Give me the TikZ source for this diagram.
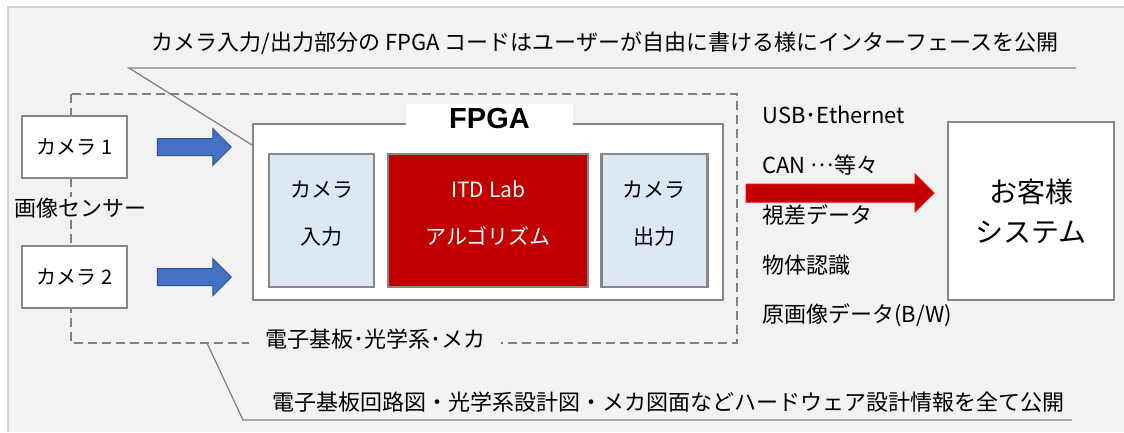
\documentclass[tikz,border=0pt]{standalone}
\usepackage{fontspec}
\setmainfont{Noto Sans CJK JP}
\newfontfamily\fpgafont{Liberation Sans}
\usetikzlibrary{positioning, shapes.arrows}

\definecolor{panelgray}{HTML}{F2F2F2}
\definecolor{edgegray}{HTML}{878787}
\definecolor{dashgray}{HTML}{7F7F7F}
\definecolor{camblue}{HTML}{DDE8F5}
\definecolor{itdred}{HTML}{C00000}
\definecolor{arrowblue}{HTML}{4472C4}
\definecolor{arrowedge}{HTML}{2F528F}

\tikzset{
  whitebox/.style={draw=edgegray, line width=2.2pt, fill=white, inner sep=0pt},
  cambox/.style={whitebox, minimum width=105pt, minimum height=62pt},
  block/.style={draw=edgegray, line width=2.2pt, minimum height=133pt, inner sep=0pt},
  blocktext/.style={align=center, font=\fontsize{21}{47}\selectfont},
  bluearrow/.style={single arrow, draw=arrowedge, fill=arrowblue, line width=1pt,
    minimum height=74pt, single arrow head extend=10pt, inner xsep=0pt, inner ysep=8pt},
  redarrow/.style={bluearrow, draw=red, fill=itdred, minimum height=188pt, inner ysep=8.5pt},
  callout/.style={draw=dashgray, line width=1.2pt},
  bigtext/.style={font=\fontsize{22}{26}\selectfont},
  linktext/.style={bigtext, anchor=west}
}

\begin{document}
\begin{tikzpicture}[x=1pt, y=-1pt, font=\fontsize{20}{24}\selectfont]
  \useasboundingbox (0,0) rectangle (1124,432);
  \fill[panelgray] (8,7) rectangle (1124,432);
  \draw[gray!35, line width=1.5pt] (1124,7) -- (8,7) -- (8,432);

  \draw[dashgray, line width=2.2pt, dash pattern=on 9pt off 5pt] (71,94) rectangle (737,343);

  \coordinate (topbend) at (129,68);
  \coordinate (topend) at (1076,68);
  \coordinate (botstart) at (207,343);
  \coordinate (botbend) at (243,420);
  \coordinate (botend) at (1072,420);

  \node[bigtext] (gaiyou) at (605,43) {カメラ入力/出力部分の FPGA コードはユーザーが自由に書ける様にインターフェースを公開};

  \node[cambox] (cam1) at (74.5,147) {カメラ 1};
  \node[cambox, below=66pt of cam1] (cam2) {カメラ 2};
  \node[bigtext, fill=panelgray, inner sep=1pt] (sensor) at (80,208) {画像センサー};

  \node[whitebox, minimum width=470pt, minimum height=176pt] (fpga) at (488,212) {};
  \node[fill=white, minimum width=167pt, minimum height=30pt, inner sep=0pt,
    font=\fpgafont\bfseries\fontsize{29}{30}\selectfont] (fpgalabel) at (489.5,119) {FPGA};

  \node[block, fill=camblue, minimum width=105pt] (camin) at (321.5,220.5) {};
  \node[block, fill=itdred, minimum width=200pt, right=12pt of camin] (algo) {};
  \node[block, fill=camblue, minimum width=106pt, right=11pt of algo] (camout) {};
  \node[blocktext] (camintext) at ([yshift=7pt]camin.center) {カメラ\\入力};
  \node[blocktext, text=white] (algotext) at ([yshift=7pt]algo.center) {ITD Lab\\アルゴリズム};
  \node[blocktext] (camouttext) at ([yshift=7pt]camout.center) {カメラ\\出力};

  \node[whitebox, minimum width=166pt, minimum height=178pt, align=center,
    font=\fontsize{28}{40}\selectfont] (cust) at (1031,211) {お客様\\システム};

  \path (cam1.east) -- (cam1.east -| fpga.west) node[bluearrow, midway] (in1) {};
  \path (cam2.east) -- (cam2.east -| fpga.west) node[bluearrow, midway] (in2) {};
  \coordinate (outstart) at ([yshift=19pt]fpga.east);
  \path (outstart) -- (outstart -| cust.west) node[redarrow, midway] (out) {};

  \node[linktext] (usb) at (759,115) {USB･Ethernet};
  \node[linktext] (can) at (759,165) {CAN \raisebox{0.3em}{…}等々};
  \node[linktext] (shisa) at (759,215) {視差データ};
  \node[linktext] (buttai) at (759,265) {物体認識};
  \node[linktext] (raw) at (759,315) {原画像データ(B/W)};

  \node[bigtext, fill=panelgray, inner xsep=16pt, inner ysep=2pt] (kiban) at (375,339) {電子基板･光学系･メカ};
  \node[bigtext] (koukai) at (668,402) {電子基板回路図・光学系設計図・メカ図面などハードウェア設計情報を全て公開};

  \draw[callout] ([yshift=-22pt]fpga.north west) -- (topbend) -- (topend);
  \draw[callout] (botstart) -- (botbend) -- (botend);
\end{tikzpicture}
\end{document}
